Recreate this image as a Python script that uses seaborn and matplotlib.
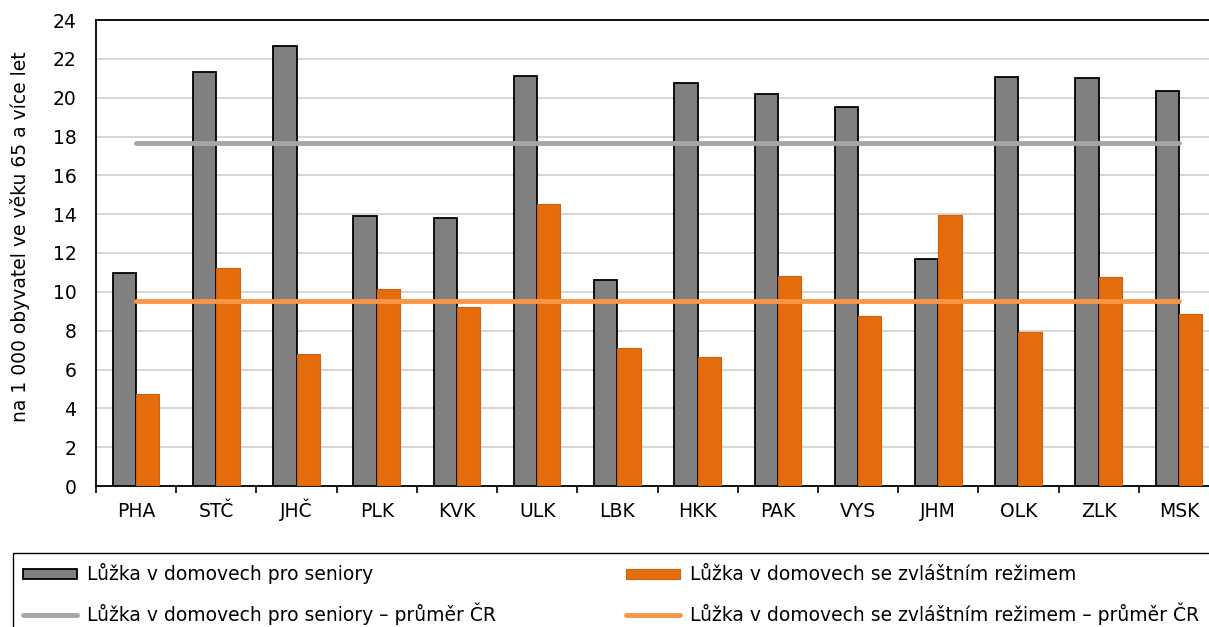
"""
Lůžka v domovech pro seniory a se zvláštním režimem podle krajů
(na 1 000 obyvatel ve věku 65 a více let), sloupcový graf + průměr ČR.
"""

import numpy as np
import pandas as pd
import matplotlib
matplotlib.use("Agg")
import matplotlib.pyplot as plt
from matplotlib.patches import Patch, Rectangle
from matplotlib.lines import Line2D
from matplotlib.ticker import FixedLocator
import seaborn as sns

# ── Data ──
KRAJE = ["PHA", "STČ", "JHČ", "PLK", "KVK", "ULK", "LBK",
         "HKK", "PAK", "VYS", "JHM", "OLK", "ZLK", "MSK"]
DS_SENIORI = [10.95, 21.32, 22.66, 13.89, 13.82, 21.12, 10.61,
              20.76, 20.19, 19.54, 11.69, 21.06, 21.01, 20.36]
DS_REZIM = [4.76, 11.24, 6.82, 10.16, 9.20, 14.54, 7.12,
            6.63, 10.80, 8.77, 13.96, 7.91, 10.78, 8.84]
PRUMER_SENIORI = 17.68
PRUMER_REZIM = 9.55

Y_TICKS = list(range(0, 25, 2))
POPISKY = [
    "Lůžka v domovech pro seniory",
    "Lůžka v domovech se zvláštním režimem",
    "Lůžka v domovech pro seniory – průměr ČR",
    "Lůžka v domovech se zvláštním režimem – průměr ČR",
]
Y_LABEL = "na 1 000 obyvatel ve věku 65 a více let"

# ── Barvy ──
C_SEDA = "#808080"
C_ORANZ = "#E46C0A"
C_ORANZ_EDGE = "#CF6210"
C_SEDA_LINE = "#A6A6A6"
C_ORANZ_LINE = "#F79646"

sns.set_theme(style="white")
plt.rcParams["font.family"] = ["DejaVu Sans"]
FS = 13.5

df = pd.DataFrame({
    "kraj": KRAJE * 2,
    "hodnota": DS_SENIORI + DS_REZIM,
    "typ": [POPISKY[0]] * len(KRAJE) + [POPISKY[1]] * len(KRAJE),
})

fig = plt.figure(figsize=(12.09, 6.27), dpi=100)
ax = fig.add_axes([96 / 1209, 141 / 627, 1123 / 1209, 466 / 627])

sns.barplot(data=df, x="kraj", y="hodnota", hue="typ", order=KRAJE,
            hue_order=POPISKY[:2], palette=[C_SEDA, C_ORANZ],
            saturation=1, width=0.58, errorbar=None, legend=False,
            ax=ax, zorder=3)
for bar in ax.containers[0]:
    bar.set_edgecolor("black")
    bar.set_linewidth(1.3)
for bar in ax.containers[1]:
    bar.set_edgecolor(C_ORANZ_EDGE)
    bar.set_linewidth(0.8)

# průměry ČR – od středu první do středu poslední kategorie
pozice = np.arange(len(KRAJE))
sns.lineplot(x=pozice, y=np.full(len(KRAJE), PRUMER_SENIORI), color=C_SEDA_LINE,
             lw=3.5, solid_capstyle="round", legend=False, ax=ax, zorder=4)
sns.lineplot(x=pozice, y=np.full(len(KRAJE), PRUMER_REZIM), color=C_ORANZ_LINE,
             lw=3.5, solid_capstyle="round", legend=False, ax=ax, zorder=4)

# ── Osy ──
ax.set_xlim(-0.5, len(KRAJE) - 0.5)
ax.set_ylim(0, 24)
ax.set_yticks(Y_TICKS)
ax.set_yticklabels([str(t) for t in Y_TICKS], fontsize=FS)
ax.set_xticks(pozice)
ax.set_xticklabels(KRAJE, fontsize=FS, va="baseline")
ax.xaxis.set_minor_locator(FixedLocator(np.arange(len(KRAJE) + 1) - 0.5))
ax.tick_params(axis="x", which="major", length=0, pad=22, colors="black")
ax.tick_params(axis="x", which="minor", length=5, width=1.2, direction="out",
               color="black", bottom=True)
ax.tick_params(axis="y", length=0, pad=14, colors="black")
ax.set_xlabel("")
ax.set_ylabel(Y_LABEL, fontsize=FS, color="black")
ax.yaxis.set_label_coords(-0.059, 0.535)

ax.grid(axis="y", color="#D0D0D0", lw=1.2, zorder=0)
ax.grid(axis="x", visible=False)
ax.set_axisbelow(True)
for side in ["left", "top", "bottom", "right"]:
    ax.spines[side].set_visible(True)
    ax.spines[side].set_color("black")
    ax.spines[side].set_linewidth(1.3)

# ── Legenda ──
handles = [
    Patch(facecolor=C_SEDA, edgecolor="black", lw=1.3),
    Line2D([], [], color=C_SEDA_LINE, lw=3.5, solid_capstyle="round"),
    Patch(facecolor=C_ORANZ, edgecolor=C_ORANZ_EDGE, lw=0.8),
    Line2D([], [], color=C_ORANZ_LINE, lw=3.5, solid_capstyle="round"),
]
labels = [POPISKY[0], POPISKY[2], POPISKY[1], POPISKY[3]]
leg = fig.legend(handles, labels, loc="upper left", ncol=2,
                 bbox_to_anchor=(13 / 1209, 1 - 553 / 627),
                 fontsize=FS, frameon=False,
                 borderpad=0.55, borderaxespad=0, handlelength=2.85,
                 handleheight=0.45, handletextpad=0.55, labelspacing=0.95,
                 columnspacing=6.95)
for t in leg.get_texts():
    t.set_color("black")

# rámeček legendy přesahuje pravý a dolní okraj obrázku
fig.add_artist(Rectangle((13 / 1209, -0.05), 1.0, 1 - 553 / 627 + 0.05,
                         transform=fig.transFigure, fill=False,
                         edgecolor="black", lw=1.0))

plt.savefig("out.png", dpi=100)
plt.close()
